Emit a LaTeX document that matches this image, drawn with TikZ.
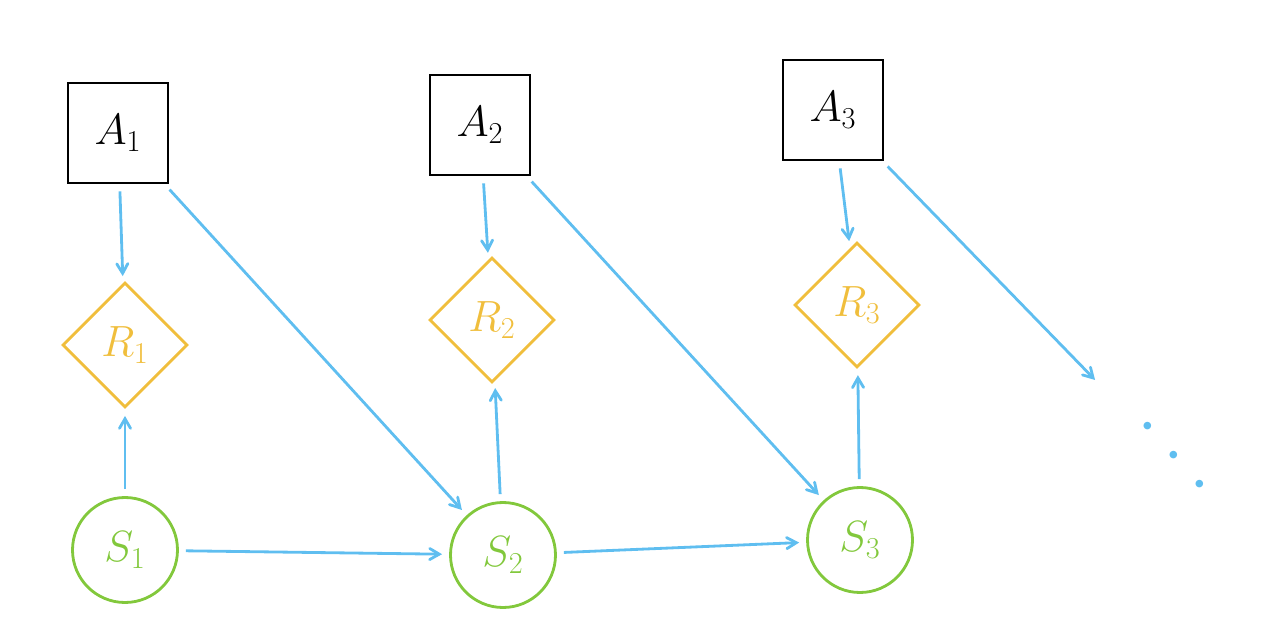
\documentclass[tikz,border=0pt]{standalone}
\usepackage{amsmath}
\usepackage{tikz}
\usetikzlibrary{arrows, shapes.geometric}

\definecolor{skyblue}{RGB}{95,190,240}
\definecolor{rorange}{RGB}{240,190,60}
\definecolor{sgreen}{RGB}{130,200,60}

\tikzset{
	act/.style={draw=black, rectangle, minimum width=2cm, minimum height=2cm, font=\fontsize{26}{28}\selectfont},
	rew/.style={draw=rorange, text=rorange, diamond, aspect=1, minimum size=2.5cm, inner sep=0pt, font=\fontsize{24}{26}\selectfont},
	st/.style={draw=sgreen, text=sgreen, circle, minimum size=2.1cm, font=\fontsize{26}{28}\selectfont},
	flow/.style={draw=skyblue, shorten >=4pt, shorten <=4pt}
}

\begin{document}
\begin{tikzpicture}[->,>=angle 60,line width=1.6pt]
			\useasboundingbox (0,0) rectangle (25.48,12.6);
			\node[act] (a1) at (2.36,9.94) {$A_1$};
			\node[act] (a2) at (9.6,10.1)  {$A_2$};
			\node[act] (a3) at (16.66,10.4) {$A_3$};
			\node[rew] (r1) at (2.5,5.7)   {$R_1$};
			\node[rew] (r2) at (9.84,6.2)  {$R_2$};
			\node[rew] (r3) at (17.14,6.5) {$R_3$};
			\node[st]  (s1) at (2.5,1.6)   {$S_1$};
			\node[st]  (s2) at (10.06,1.5) {$S_2$};
			\node[st]  (s3) at (17.2,1.8)  {$S_3$};
			\coordinate (next) at (22.0,4.9);
			\node[rotate=-48, text=skyblue, font=\fontsize{30}{32}\selectfont\bfseries] (more) at (23.48,3.5) {.\hspace{0.45cm}.\hspace{0.45cm}.};
			\draw[flow] (a1) edge (r1);
			\draw[flow] (a2) edge (r2);
			\draw[flow] (a3) edge (r3);
			\draw[flow] (s1) edge (r1);
			\draw[flow] (s2) edge (r2);
			\draw[flow] (s3) edge (r3);
			\draw[flow] (a1) edge (s2);
			\draw[flow] (a2) edge (s3);
			\draw[flow] (a3) edge (next);
			\draw[flow] (s1) edge (s2);
			\draw[flow] (s2) edge (s3);
		\end{tikzpicture}
\end{document}
